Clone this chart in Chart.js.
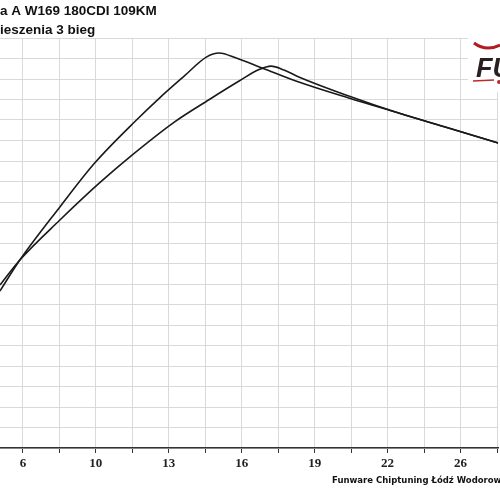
<!DOCTYPE html>
<html>
<head>
<meta charset="utf-8">
<script src="https://cdn.jsdelivr.net/npm/chart.js@4"></script>
<style>
  html, body { margin: 0; padding: 0; background: #fff; }
  #wrap { width: 500px; height: 500px; }
</style>
</head>
<body>
<div id="wrap"><canvas id="chart" width="500" height="500"></canvas></div>
<script>
// visible (cropped) header / footer texts
const titleLines = ['a A W169 180CDI 109KM', 'ieszenia 3 bieg'];
const footerText = 'Funware Chiptuning Łódź Wodorowa';

// x axis: labelled ticks every other grid line
const xTickLabels = ['6', '10', '13', '16', '19', '22', '26'];
const xStart = 6, xStep = 5 / 3;

// curve (steeper one, peaks first)
const runA_x = [4.95, 5.86, 7.69, 9.28, 11.19, 12.24, 13.38, 14.38, 14.97, 15.75, 16.93, 18.61, 20.89, 23.17, 25.45, 27.72];
const runA_y = [7.66, 9.17, 11.76, 13.9, 16.0, 17.07, 18.15, 19.07, 19.27, 19.02, 18.54, 17.85, 17.07, 16.34, 15.61, 14.88];

// second curve
const runB_x = [4.95, 5.86, 7.69, 9.5, 11.0, 12.92, 14.52, 15.88, 16.79, 17.34, 17.93, 18.61, 20.89, 23.17, 25.45, 27.72];
const runB_y = [7.95, 9.17, 11.12, 12.93, 14.3, 15.9, 17.0, 17.9, 18.46, 18.63, 18.44, 18.1, 17.17, 16.34, 15.61, 14.88];

const toPoints = (xs, ys) => xs.map((x, i) => ({ x: x, y: ys[i] }));

const decor = {
  id: 'decor',
  afterDraw(chart) {
    const ctx = chart.ctx;
    ctx.save();
    // titles
    ctx.fillStyle = '#111';
    ctx.font = 'bold 13.5px "Liberation Sans"';
    ctx.textBaseline = 'alphabetic';
    ctx.fillText(titleLines[0], 0, 15);
    ctx.fillText(titleLines[1], 0, 34);

    // footer
    ctx.font = 'bold 8.5px "DejaVu Sans"';
    ctx.fillStyle = '#111';
    ctx.fillText(footerText, 332, 483);

    // logo (top right)
    ctx.fillStyle = '#fff';
    ctx.fillRect(468, 36, 32, 56);
    ctx.strokeStyle = '#b01c22';
    ctx.lineWidth = 3;
    ctx.beginPath();
    ctx.moveTo(474, 43);
    ctx.quadraticCurveTo(486, 52, 500, 45);
    ctx.stroke();
    ctx.fillStyle = '#2a2020';
    ctx.font = 'italic bold 27px "Liberation Sans"';
    ctx.fillText('FU', 476, 77);
    ctx.strokeStyle = '#c0282e';
    ctx.lineWidth = 1.5;
    ctx.beginPath();
    ctx.moveTo(473, 81);
    ctx.lineTo(494, 80);
    ctx.stroke();
    ctx.fillStyle = '#c0282e';
    ctx.beginPath();
    ctx.arc(499, 82, 2, 0, Math.PI * 2);
    ctx.fill();
    ctx.restore();
  }
};

new Chart(document.getElementById('chart'), {
  type: 'line',
  data: {
    datasets: [
      {
        data: toPoints(runA_x, runA_y),
        borderColor: '#1a1a1a',
        borderWidth: 1.6,
        pointRadius: 0,
        cubicInterpolationMode: 'monotone',
        fill: false
      },
      {
        data: toPoints(runB_x, runB_y),
        borderColor: '#1a1a1a',
        borderWidth: 1.6,
        pointRadius: 0,
        cubicInterpolationMode: 'monotone',
        fill: false
      }
    ]
  },
  options: {
    responsive: false,
    animation: false,
    layout: { padding: { top: 38, left: 0, right: 0, bottom: 0 } },
    plugins: { legend: { display: false }, tooltip: { enabled: false } },
    scales: {
      x: {
        type: 'linear',
        min: 4.953,
        max: 27.72,
        afterBuildTicks(scale) {
          const t = [];
          for (let j = 0; j <= 13; j++) t.push({ value: xStart + xStep * j });
          scale.ticks = t;
        },
        afterFit(scale) { scale.height = 52; },
        grid: {
          color: '#d9d9d9',
          lineWidth: 1,
          tickColor: '#333',
          tickLength: 5
        },
        border: { display: true, color: '#333', width: 1.5 },
        ticks: {
          autoSkip: false,
          maxRotation: 0,
          padding: 3,
          color: '#222',
          font: { family: '"Liberation Serif"', size: 13, weight: 'bold' },
          callback: (v, i) => (i % 2 === 0 ? xTickLabels[i / 2] : '')
        }
      },
      y: {
        min: 0,
        max: 20,
        afterFit(scale) { scale.width = 0; },
        ticks: { display: false, stepSize: 1 },
        grid: { color: '#d9d9d9', lineWidth: 1, drawTicks: false },
        border: { display: false }
      }
    }
  },
  plugins: [decor]
});
</script>
</body>
</html>
